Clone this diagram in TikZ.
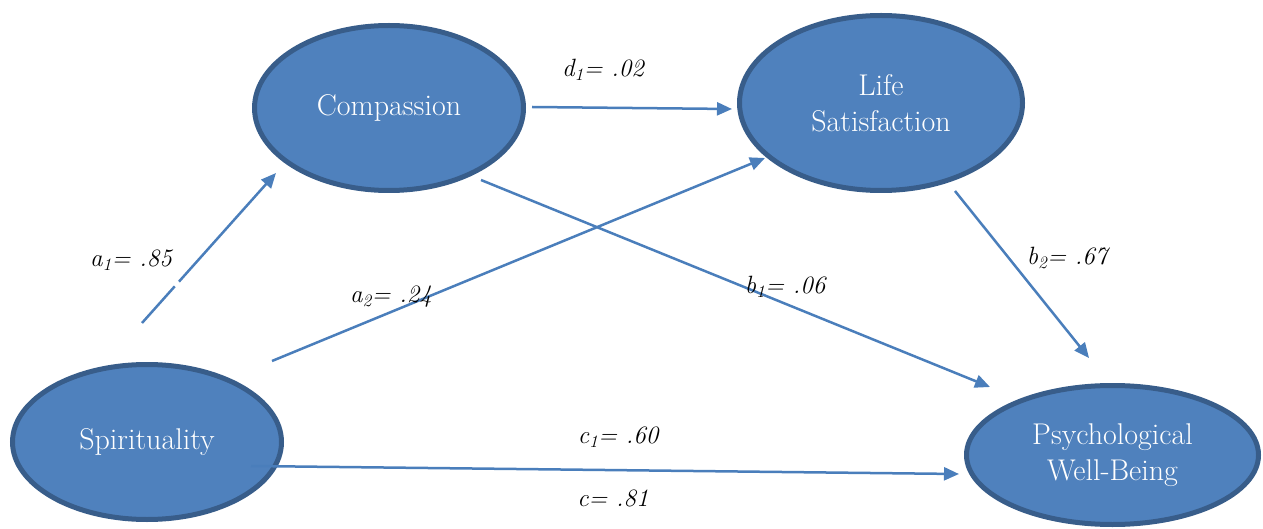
\documentclass[tikz,border=0pt]{standalone}
\usetikzlibrary{shapes.geometric,arrows.meta,calc}
\definecolor{nodefill}{HTML}{4F81BD}
\definecolor{nodeborder}{HTML}{385D8A}
\definecolor{linkblue}{HTML}{4A7EBB}
\begin{document}
\begin{tikzpicture}[x=1pt,y=-1pt,
  latent/.style={ellipse, fill=nodefill, draw=nodeborder, line width=5pt, inner sep=0pt,
    text=white, align=center, font=\fontsize{30}{36}\selectfont},
  link/.style={draw=linkblue, line width=2.5pt,
    -{Triangle[length=15pt,width=13pt]}},
  coef/.style={font=\fontsize{25}{30}\selectfont\itshape, inner sep=0pt}]
\useasboundingbox (0,0) rectangle (1263,529);

% latent variables
\node[latent, minimum width=269pt, minimum height=165pt] (comp) at (389,108) {Compassion};
\node[latent, minimum width=283pt, minimum height=175pt] (life) at (881,103) {Life\\Satisfaction};
\node[latent, minimum width=269pt, minimum height=155pt] (spir) at (147,442) {Spirituality};
\node[latent, minimum width=292pt, minimum height=139pt] (pwb) at (1112.5,455) {Psychological\\Well-Being};

% connector end points
\coordinate (a1s) at (142,323);  \coordinate (a1e) at (276,173);
\coordinate (d1s) at (532,107);  \coordinate (d1e) at (732,109);
\coordinate (a2s) at (272,361);  \coordinate (a2e) at (765,158);
\coordinate (b1s) at (481,180);  \coordinate (b1e) at (990,387);
\coordinate (b2s) at (955,191);  \coordinate (b2e) at (1089,358);
\coordinate (c1s) at (251,466);  \coordinate (c1e) at (959,474);

% connectors
\draw[link] (a1s) -- (a1e);
\draw[white, line width=5pt] ($(a1s)!0.245!(a1e)$) -- ($(a1s)!0.275!(a1e)$);
\draw[link] (d1s) -- (d1e);
\draw[link] (a2s) -- (a2e);
\draw[link] (b1s) -- (b1e);
\draw[link] (b2s) -- (b2e);
\draw[link] (c1s) -- (c1e);

% coefficients
\node[coef] (la1) at (131,260) {a\textsubscript{1}= .85};
\node[coef] (la2) at (391,297) {a\textsubscript{2}= .24};
\node[coef] (ld1) at (603,70) {d\textsubscript{1}= .02};
\node[coef] (lb1) at (785,287) {b\textsubscript{1}= .06};
\node[coef] (lb2) at (1067,258) {b\textsubscript{2}= .67};
\node[coef] (lc1) at (618,437) {c\textsubscript{1}= .60};
\node[coef] (lc) at (613,498) {c= .81};
\end{tikzpicture}
\end{document}
